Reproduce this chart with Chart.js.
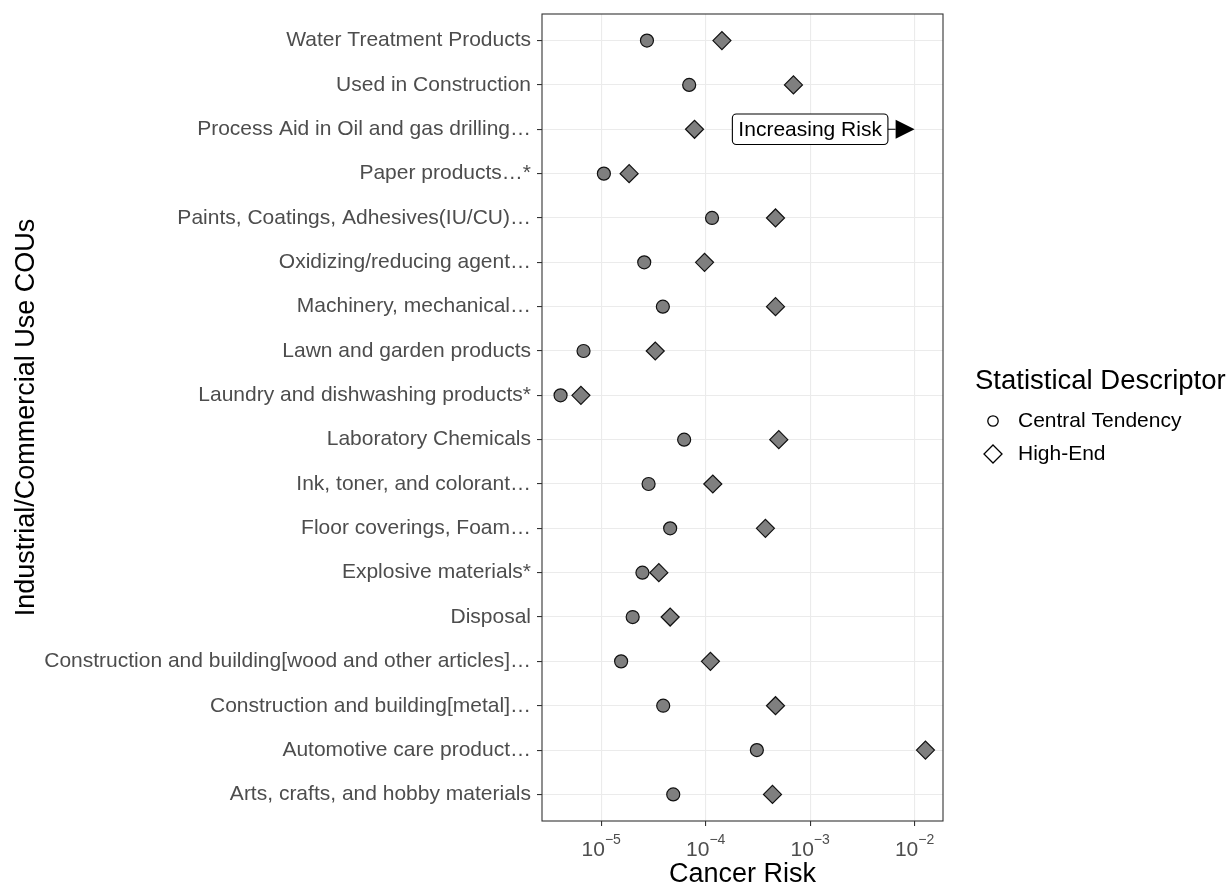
<!DOCTYPE html>
<html>
<head>
<meta charset="utf-8">
<script src="https://cdn.jsdelivr.net/npm/chart.js@4.4.1/dist/chart.umd.min.js"></script>
<style>
  html, body { margin: 0; padding: 0; background: #ffffff; }
  #wrap { width: 1227px; height: 888px; position: relative; }
</style>
</head>
<body>
<div id="wrap"><canvas id="chart"></canvas></div>
<script>
// Conditions of use, listed top to bottom
const categories = [
  'Water Treatment Products',
  'Used in Construction',
  'Process Aid in Oil and gas drilling…',
  'Paper products…*',
  'Paints, Coatings, Adhesives(IU/CU)…',
  'Oxidizing/reducing agent…',
  'Machinery, mechanical…',
  'Lawn and garden products',
  'Laundry and dishwashing products*',
  'Laboratory Chemicals',
  'Ink, toner, and colorant…',
  'Floor coverings, Foam…',
  'Explosive materials*',
  'Disposal',
  'Construction and building[wood and other articles]…',
  'Construction and building[metal]…',
  'Automotive care product…',
  'Arts, crafts, and hobby materials'
];

// Cancer risk estimates per condition of use
const centralTendency = [
  2.74e-5, 6.95e-5, null, 1.06e-5, 1.15e-4, 2.58e-5, 3.89e-5, 6.77e-6, 4.08e-6,
  6.22e-5, 2.84e-5, 4.57e-5, 2.48e-5, 2.00e-5, 1.55e-5, 3.92e-5, 3.09e-4, 4.89e-5
];
const highEnd = [
  1.43e-4, 6.92e-4, 7.82e-5, 1.85e-5, 4.66e-4, 9.75e-5, 4.66e-4, 3.29e-5, 6.39e-6,
  5.01e-4, 1.17e-4, 3.73e-4, 3.56e-5, 4.57e-5, 1.11e-4, 4.66e-4, 1.27e-2, 4.36e-4
];

// Axis ticks
const xTickValues = [1e-5, 1e-4, 1e-3, 1e-2];
const xTickExponents = ['−5', '−4', '−3', '−2'];

// Texts
const seriesLabels = ['Central Tendency', 'High-End'];
const legendTitle = 'Statistical Descriptor';
const xAxisTitle = 'Cancer Risk';
const yAxisTitle = 'Industrial/Commercial Use COUs';
const arrowLabel = 'Increasing Risk';
const arrowRow = 2;
const arrowFrom = 1e-3;
const arrowTo = 1e-2;

const FONT = "'Liberation Sans', Arial, sans-serif";

function toPoints(values) {
  const pts = [];
  values.forEach((v, i) => { if (v !== null) pts.push({ x: v, y: i }); });
  return pts;
}

function roundRectPath(ctx, x, y, w, h, r) {
  ctx.beginPath();
  ctx.moveTo(x + r, y);
  ctx.lineTo(x + w - r, y);
  ctx.arcTo(x + w, y, x + w, y + r, r);
  ctx.lineTo(x + w, y + h - r);
  ctx.arcTo(x + w, y + h, x + w - r, y + h, r);
  ctx.lineTo(x + r, y + h);
  ctx.arcTo(x, y + h, x, y + h - r, r);
  ctx.lineTo(x, y + r);
  ctx.arcTo(x, y, x + r, y, r);
  ctx.closePath();
}

// Panel border, power-of-ten tick labels, arrow annotation and legend
const decorations = {
  id: 'decorations',
  afterDatasetsDraw(chart) {
    const ctx = chart.ctx;
    const area = chart.chartArea;
    const xs = chart.scales.x;
    const ys = chart.scales.y;
    ctx.save();

    // arrow pointing toward higher risk
    const ay = ys.getPixelForValue(arrowRow);
    const ax0 = xs.getPixelForValue(arrowFrom);
    const ax1 = xs.getPixelForValue(arrowTo);
    const headLen = 19, headHalf = 9.5;
    ctx.strokeStyle = '#000';
    ctx.lineWidth = 1.1;
    ctx.beginPath();
    ctx.moveTo(ax0, ay);
    ctx.lineTo(ax1 - headLen, ay);
    ctx.stroke();
    ctx.fillStyle = '#000';
    ctx.beginPath();
    ctx.moveTo(ax1, ay);
    ctx.lineTo(ax1 - headLen, ay - headHalf);
    ctx.lineTo(ax1 - headLen, ay + headHalf);
    ctx.closePath();
    ctx.fill();

    // label box
    ctx.font = '21px ' + FONT;
    const tw = ctx.measureText(arrowLabel).width;
    const bw = tw + 12, bh = 30.5;
    const bx = ax0 - bw / 2, by = ay - bh / 2;
    roundRectPath(ctx, bx, by, bw, bh, 4);
    ctx.fillStyle = '#fff';
    ctx.fill();
    ctx.lineWidth = 1.1;
    ctx.strokeStyle = '#000';
    ctx.stroke();
    ctx.fillStyle = '#000';
    ctx.textAlign = 'center';
    ctx.textBaseline = 'middle';
    ctx.fillText(arrowLabel, ax0, ay + 1);

    // panel border
    ctx.strokeStyle = '#333333';
    ctx.lineWidth = 1.1;
    ctx.strokeRect(area.left, area.top, area.right - area.left, area.bottom - area.top);

    // x tick labels as 10 with superscript exponent
    ctx.fillStyle = '#4d4d4d';
    ctx.textAlign = 'left';
    ctx.textBaseline = 'alphabetic';
    xs.ticks.forEach((t, i) => {
      const px = xs.getPixelForValue(t.value);
      ctx.font = '21px ' + FONT;
      const w1 = ctx.measureText('10').width;
      ctx.font = '14px ' + FONT;
      const w2 = ctx.measureText(xTickExponents[i]).width;
      const start = px - (w1 + w2) / 2;
      ctx.font = '21px ' + FONT;
      ctx.fillText('10', start, area.bottom + 35);
      ctx.font = '14px ' + FONT;
      ctx.fillText(xTickExponents[i], start + w1, area.bottom + 23);
    });

    // legend
    ctx.fillStyle = '#000';
    ctx.font = '27.5px ' + FONT;
    ctx.textBaseline = 'middle';
    ctx.fillText(legendTitle, 975, 381);
    ctx.font = '21px ' + FONT;
    ctx.fillText(seriesLabels[0], 1018, 421);
    ctx.fillText(seriesLabels[1], 1018, 454);
    ctx.strokeStyle = '#000';
    ctx.lineWidth = 1.3;
    ctx.beginPath();
    ctx.arc(993, 421, 5.2, 0, Math.PI * 2);
    ctx.stroke();
    ctx.beginPath();
    ctx.moveTo(993, 454 - 9);
    ctx.lineTo(993 + 9, 454);
    ctx.lineTo(993, 454 + 9);
    ctx.lineTo(993 - 9, 454);
    ctx.closePath();
    ctx.stroke();

    ctx.restore();
  }
};

const pointCommon = {
  backgroundColor: '#7f7f7f',
  borderColor: '#111111',
  pointBackgroundColor: '#7f7f7f',
  pointBorderColor: '#111111',
  pointBorderWidth: 1.2,
  pointHoverRadius: 0
};

new Chart(document.getElementById('chart'), {
  type: 'scatter',
  data: {
    datasets: [
      Object.assign({
        label: seriesLabels[0],
        data: toPoints(centralTendency),
        pointStyle: 'circle',
        pointRadius: 6.5
      }, pointCommon),
      Object.assign({
        label: seriesLabels[1],
        data: toPoints(highEnd),
        pointStyle: 'rectRot',
        pointRadius: 9
      }, pointCommon)
    ]
  },
  options: {
    responsive: true,
    maintainAspectRatio: false,
    animation: false,
    events: [],
    layout: { padding: { top: 14, right: 284, left: 0, bottom: 0 } },
    plugins: {
      legend: { display: false },
      tooltip: { enabled: false }
    },
    scales: {
      x: {
        type: 'logarithmic',
        min: 2.71e-6,
        max: 1.87e-2,
        afterBuildTicks(scale) {
          scale.ticks = xTickValues.map(v => ({ value: v }));
        },
        afterFit(scale) {
          scale.height = 67;
          scale.paddingLeft = 0;
          scale.paddingRight = 0;
        },
        ticks: { autoSkip: false, callback: () => '', maxRotation: 0 },
        grid: {
          color: '#ebebeb',
          lineWidth: 1.1,
          drawTicks: true,
          tickLength: 5,
          tickColor: '#333333',
          tickWidth: 1.1
        },
        border: { display: false },
        title: {
          display: true,
          text: xAxisTitle,
          color: '#000',
          font: { family: FONT, size: 27, lineHeight: 1 },
          padding: { top: 0, bottom: 0 }
        }
      },
      y: {
        type: 'linear',
        reverse: true,
        min: -0.6,
        max: categories.length - 1 + 0.6,
        afterBuildTicks(scale) {
          scale.ticks = categories.map((_, i) => ({ value: i }));
        },
        afterFit(scale) {
          scale.width = 542;
          scale.paddingTop = 0;
          scale.paddingBottom = 0;
        },
        ticks: {
          autoSkip: false,
          padding: 6,
          color: '#4d4d4d',
          font: { family: FONT, size: 21 },
          callback: (v) => categories[v]
        },
        grid: {
          color: '#ebebeb',
          lineWidth: 1.1,
          drawTicks: true,
          tickLength: 5,
          tickColor: '#333333',
          tickWidth: 1.1
        },
        border: { display: false },
        title: {
          display: true,
          text: yAxisTitle,
          color: '#000',
          font: { family: FONT, size: 27, lineHeight: 1 },
          padding: { top: 13.5, bottom: 0 }
        }
      }
    }
  },
  plugins: [decorations]
});
</script>
</body>
</html>
